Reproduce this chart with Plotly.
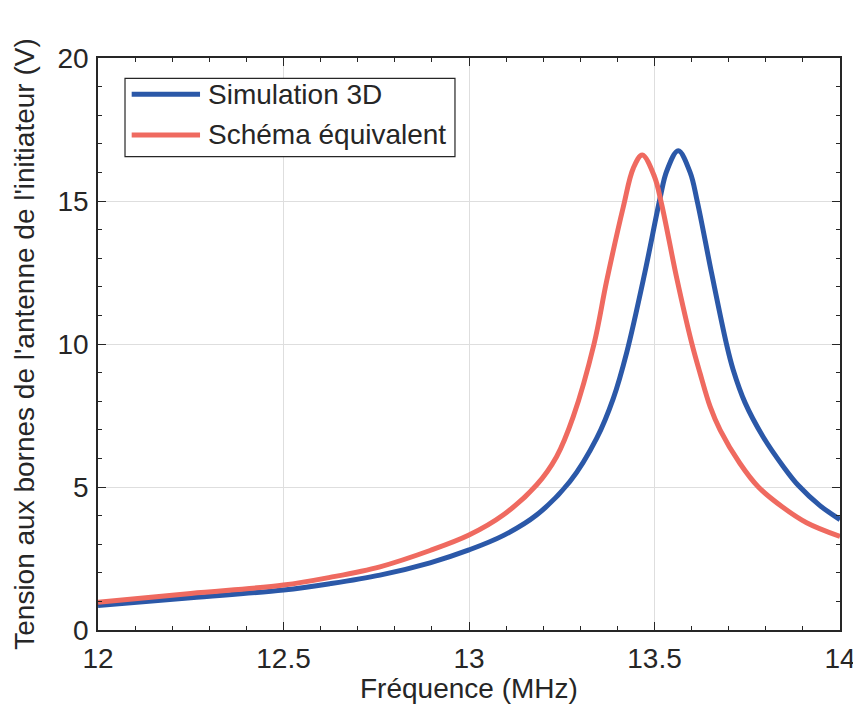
import plotly.graph_objects as go

# Simulation 3D (blue)
freq_sim = [12.00, 12.25, 12.50, 12.625, 12.76, 12.895, 13.00, 13.092, 13.182, 13.272,
            13.344, 13.389, 13.425, 13.474, 13.515, 13.533, 13.564, 13.596, 13.615,
            13.654, 13.694, 13.712, 13.744, 13.793, 13.847, 13.888, 13.946, 14.00]
volt_sim = [0.86, 1.13, 1.40, 1.62, 1.92, 2.35, 2.80, 3.30, 4.02, 5.19,
            6.7, 8.1, 9.7, 12.5, 15.1, 16.05, 16.76, 16.0, 15.0,
            12.47, 10.0, 9.1, 7.95, 6.75, 5.72, 5.05, 4.35, 3.86]

# Schéma équivalent (red)
freq_eq = [12.00, 12.25, 12.50, 12.625, 12.76, 12.895, 13.00, 13.092, 13.182, 13.236,
           13.281, 13.337, 13.371, 13.416, 13.443, 13.467, 13.500, 13.519,
           13.560, 13.600, 13.623, 13.650, 13.677, 13.730, 13.780, 13.845, 13.910, 14.00]
volt_eq = [0.97, 1.28, 1.57, 1.84, 2.21, 2.78, 3.32, 4.02, 5.07, 6.06,
           7.46, 10.0, 12.2, 14.8, 16.15, 16.61, 15.85, 14.9,
           12.3, 10.05, 8.97, 7.81, 6.99, 5.83, 5.0, 4.3, 3.75, 3.27]

names = ["Simulation 3D", "Schéma équivalent"]
colors = ["#2b58a8", "#ef6a60"]

x_ticks = [12, 12.5, 13, 13.5, 14]
x_ticklabels = ["12", "12.5", "13", "13.5", "14"]
y_ticks = [0, 5, 10, 15, 20]

FONT = "Liberation Sans, Arial, sans-serif"
DARK = "#262626"

fig = go.Figure()
fig.add_trace(go.Scatter(x=freq_sim, y=volt_sim, mode="lines", name=names[0],
                         line=dict(color=colors[0], width=5, shape="spline", smoothing=1.0),
                         showlegend=False))
fig.add_trace(go.Scatter(x=freq_eq, y=volt_eq, mode="lines", name=names[1],
                         line=dict(color=colors[1], width=5, shape="spline", smoothing=1.0),
                         showlegend=False))

axis_common = dict(
    showline=True, linecolor=DARK, linewidth=1.5, mirror="ticks",
    ticks="inside", ticklen=8, tickwidth=1.2, tickcolor=DARK,
    showgrid=True, gridcolor="#dedede", gridwidth=1.2, zeroline=False,
    tickfont=dict(family=FONT, size=28, color=DARK), automargin=False,
)

fig.update_xaxes(range=[12, 14], tickvals=x_ticks, ticktext=x_ticklabels,
                 minor=dict(dtick=0.1, ticks="inside", ticklen=4, tickcolor=DARK, showgrid=False),
                 ticklabelstandoff=3,
                 **axis_common)
fig.update_yaxes(range=[0, 20], tickvals=y_ticks,
                 title=dict(text="Tension aux bornes de l'antenne de l'initiateur (V)",
                            font=dict(family=FONT, size=28, color=DARK), standoff=15),
                 minor=dict(dtick=1, ticks="inside", ticklen=4, tickcolor=DARK, showgrid=False),
                 ticklabelstandoff=2,
                 **axis_common)

# legend drawn in paper coordinates
shapes = [
    dict(type="rect", xref="paper", yref="paper", x0=0.0364, x1=0.4811, y0=0.8275, y1=0.9645,
         line=dict(color=DARK, width=1.2), fillcolor="white", layer="above"),
    dict(type="line", xref="paper", yref="paper", x0=0.0454, x1=0.1375, y0=0.9366, y1=0.9366,
         line=dict(color=colors[0], width=5), layer="above"),
    dict(type="line", xref="paper", yref="paper", x0=0.0454, x1=0.1375, y0=0.8654, y1=0.8654,
         line=dict(color=colors[1], width=5), layer="above"),
]
annotations = [
    dict(xref="paper", yref="paper", x=0.1456, y=0.9366, text=names[0], showarrow=False,
         xanchor="left", yanchor="middle", font=dict(family=FONT, size=28, color=DARK)),
    dict(xref="paper", yref="paper", x=0.1456, y=0.8654, text=names[1], showarrow=False,
         xanchor="left", yanchor="middle", font=dict(family=FONT, size=28, color=DARK)),
    dict(xref="paper", yref="paper", x=0.5, y=0, text="Fréquence (MHz)", showarrow=False,
         xanchor="center", yanchor="middle", yshift=-58,
         font=dict(family=FONT, size=28, color=DARK)),
]

# the page adds an 8 px body margin, so the figure is 8 px smaller on each axis
fig.update_layout(
    width=853, height=714,
    margin=dict(l=90, r=21, t=50, b=92),
    paper_bgcolor="white", plot_bgcolor="white",
    shapes=shapes, annotations=annotations,
    showlegend=False,
)

fig.write_html("out.html")
